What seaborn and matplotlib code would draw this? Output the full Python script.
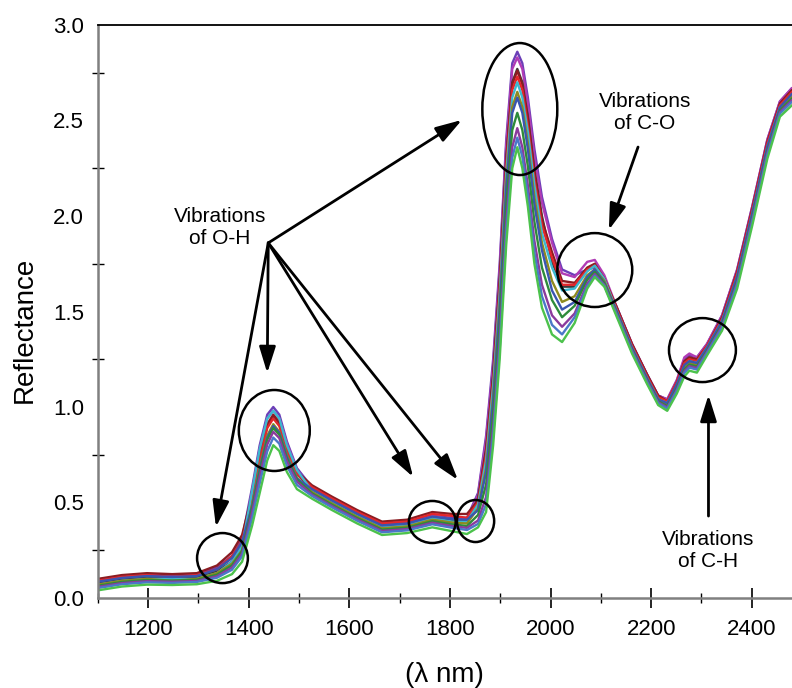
import numpy as np
import pandas as pd
import seaborn as sns
import matplotlib
matplotlib.use("Agg")
import matplotlib.pyplot as plt
from matplotlib.patches import Ellipse

sns.set_style("ticks")
plt.rcParams['font.family'] = ['Liberation Sans', 'DejaVu Sans']
plt.rcParams['text.color'] = 'black'
plt.rcParams['xtick.color'] = 'black'
plt.rcParams['ytick.color'] = 'black'

# wavelength grid (nm)
wavelength = [1100, 1148, 1198, 1248, 1297, 1337, 1367, 1387,
              1407, 1422, 1437, 1449, 1461, 1476, 1496,
              1526, 1566, 1616, 1665, 1715, 1765, 1804, 1834,
              1856, 1872, 1886, 1899, 1912, 1924, 1934, 1944, 1955, 1968, 1983,
              2003, 2023, 2048, 2073, 2088, 2107,
              2132, 2162, 2192, 2214, 2232, 2251, 2266, 2276, 2291, 2311,
              2341, 2371, 2401, 2431, 2456, 2480]

purple = [0.09, 0.11, 0.12, 0.12, 0.12, 0.16, 0.22, 0.31,
          0.58, 0.80, 0.96, 1.00, 0.96, 0.82, 0.68,
          0.58, 0.52, 0.45, 0.39, 0.40, 0.43, 0.42, 0.42,
          0.55, 0.85, 1.25, 1.75, 2.40, 2.80, 2.86, 2.80, 2.62, 2.35, 2.10,
          1.88, 1.72, 1.69, 1.72, 1.73, 1.66,
          1.52, 1.33, 1.17, 1.06, 1.04, 1.14, 1.25, 1.27, 1.26, 1.33, 1.48, 1.72, 2.05, 2.40, 2.60, 2.67]
magenta = [0.08, 0.10, 0.11, 0.11, 0.11, 0.15, 0.21, 0.29,
           0.56, 0.78, 0.94, 0.98, 0.94, 0.81, 0.67,
           0.57, 0.51, 0.44, 0.38, 0.39, 0.43, 0.41, 0.41,
           0.54, 0.83, 1.22, 1.72, 2.37, 2.77, 2.83, 2.77, 2.59, 2.31, 2.07,
           1.86, 1.70, 1.68, 1.76, 1.77, 1.69,
           1.52, 1.33, 1.17, 1.06, 1.04, 1.14, 1.26, 1.28, 1.26, 1.33, 1.48, 1.72, 2.05, 2.40, 2.60, 2.67]
black = [0.08, 0.10, 0.11, 0.10, 0.11, 0.14, 0.19, 0.27,
         0.53, 0.74, 0.90, 0.95, 0.91, 0.78, 0.65,
         0.57, 0.51, 0.44, 0.38, 0.39, 0.42, 0.41, 0.40,
         0.52, 0.78, 1.17, 1.66, 2.30, 2.70, 2.77, 2.70, 2.52, 2.24, 2.00,
         1.76, 1.63, 1.63, 1.72, 1.74, 1.67,
         1.50, 1.32, 1.16, 1.05, 1.02, 1.12, 1.22, 1.25, 1.24, 1.31, 1.46, 1.69, 2.02, 2.37, 2.58, 2.64]
darkred = [0.10, 0.12, 0.13, 0.125, 0.13, 0.17, 0.24, 0.33,
           0.54, 0.75, 0.91, 0.96, 0.92, 0.79, 0.66,
           0.59, 0.53, 0.46, 0.40, 0.41, 0.45, 0.44, 0.44,
           0.51, 0.77, 1.16, 1.65, 2.29, 2.69, 2.76, 2.69, 2.51, 2.23, 1.98,
           1.81, 1.66, 1.65, 1.73, 1.75, 1.67,
           1.52, 1.33, 1.17, 1.06, 1.03, 1.13, 1.24, 1.26, 1.25, 1.32, 1.47, 1.71, 2.04, 2.39, 2.59, 2.66]
red = [0.09, 0.11, 0.12, 0.11, 0.12, 0.15, 0.22, 0.30,
       0.52, 0.72, 0.89, 0.94, 0.90, 0.77, 0.65,
       0.58, 0.52, 0.45, 0.39, 0.40, 0.44, 0.43, 0.42,
       0.50, 0.75, 1.13, 1.62, 2.26, 2.66, 2.73, 2.66, 2.47, 2.19, 1.95,
       1.78, 1.64, 1.64, 1.72, 1.74, 1.67,
       1.51, 1.32, 1.16, 1.05, 1.03, 1.13, 1.23, 1.25, 1.24, 1.32, 1.46, 1.70, 2.03, 2.38, 2.58, 2.65]
cyan = [0.07, 0.09, 0.10, 0.10, 0.10, 0.13, 0.19, 0.27,
        0.56, 0.78, 0.94, 0.98, 0.94, 0.80, 0.67,
        0.56, 0.50, 0.43, 0.37, 0.38, 0.42, 0.40, 0.40,
        0.49, 0.72, 1.11, 1.59, 2.22, 2.62, 2.70, 2.62, 2.44, 2.16, 1.91,
        1.73, 1.61, 1.62, 1.71, 1.74, 1.67,
        1.50, 1.31, 1.15, 1.04, 1.02, 1.11, 1.21, 1.24, 1.23, 1.31, 1.45, 1.68, 2.01, 2.36, 2.57, 2.63]
olive = [0.07, 0.09, 0.10, 0.09, 0.10, 0.13, 0.18, 0.25,
         0.49, 0.69, 0.85, 0.91, 0.87, 0.75, 0.63,
         0.555, 0.495, 0.425, 0.365, 0.375, 0.41, 0.395, 0.39,
         0.47, 0.68, 1.06, 1.54, 2.17, 2.57, 2.65, 2.57, 2.38, 2.10, 1.86,
         1.66, 1.55, 1.58, 1.69, 1.72, 1.66,
         1.495, 1.305, 1.145, 1.035, 1.01, 1.105, 1.205, 1.23, 1.22, 1.30, 1.44, 1.67, 2.00, 2.35, 2.56, 2.625]
navy = [0.085, 0.105, 0.115, 0.11, 0.115, 0.15, 0.21, 0.295,
        0.48, 0.675, 0.84, 0.90, 0.865, 0.74, 0.625,
        0.57, 0.51, 0.44, 0.38, 0.39, 0.426, 0.413, 0.41,
        0.46, 0.66, 1.03, 1.51, 2.14, 2.54, 2.62, 2.54, 2.35, 2.06, 1.82,
        1.61, 1.51, 1.55, 1.68, 1.72, 1.65,
        1.50, 1.31, 1.15, 1.04, 1.02, 1.12, 1.22, 1.24, 1.23, 1.31, 1.45, 1.685, 2.015, 2.365, 2.57, 2.64]
dkgreen = [0.064, 0.084, 0.094, 0.091, 0.095, 0.122, 0.171, 0.246,
           0.47, 0.66, 0.83, 0.89, 0.855, 0.73, 0.62,
           0.548, 0.488, 0.418, 0.358, 0.368, 0.402, 0.386, 0.377,
           0.435, 0.594, 0.962, 1.43, 2.05, 2.45, 2.54, 2.45, 2.26, 1.97, 1.73,
           1.56, 1.47, 1.53, 1.666, 1.708, 1.648,
           1.49, 1.30, 1.14, 1.03, 1.004, 1.098, 1.196, 1.222, 1.212, 1.294, 1.432, 1.66, 1.99, 2.34, 2.552, 2.616]
purple2 = [0.058, 0.078, 0.088, 0.085, 0.089, 0.114, 0.16, 0.232,
           0.45, 0.638, 0.804, 0.87, 0.837, 0.716, 0.609,
           0.541, 0.481, 0.411, 0.351, 0.361, 0.394, 0.377, 0.367,
           0.406, 0.53, 0.89, 1.35, 1.96, 2.36, 2.46, 2.36, 2.16, 1.87, 1.64,
           1.48, 1.42, 1.49, 1.646, 1.696, 1.64,
           1.485, 1.295, 1.135, 1.025, 0.998, 1.091, 1.187, 1.214, 1.204, 1.288, 1.424, 1.65, 1.98, 2.33, 2.544, 2.607]
blue2 = [0.052, 0.072, 0.082, 0.079, 0.084, 0.106, 0.148, 0.218,
         0.42, 0.60, 0.768, 0.84, 0.808, 0.692, 0.592,
         0.534, 0.474, 0.404, 0.344, 0.354, 0.386, 0.368, 0.356,
         0.388, 0.49, 0.845, 1.30, 1.905, 2.305, 2.41, 2.31, 2.11, 1.81, 1.58,
         1.43, 1.38, 1.47, 1.633, 1.688, 1.635,
         1.48, 1.29, 1.13, 1.02, 0.992, 1.084, 1.178, 1.206, 1.196, 1.282, 1.416, 1.64, 1.97, 2.32, 2.536, 2.598]
ltgreen = [0.04, 0.06, 0.07, 0.068, 0.072, 0.09, 0.125, 0.19,
           0.38, 0.55, 0.72, 0.80, 0.77, 0.66, 0.57,
           0.52, 0.46, 0.39, 0.33, 0.34, 0.37, 0.35, 0.335,
           0.37, 0.45, 0.80, 1.25, 1.85, 2.25, 2.36, 2.25, 2.05, 1.75, 1.52,
           1.38, 1.34, 1.44, 1.62, 1.68, 1.63,
           1.47, 1.28, 1.12, 1.01, 0.98, 1.07, 1.16, 1.19, 1.18, 1.27, 1.40, 1.62, 1.95, 2.30, 2.52, 2.58]

samples = {
    'purple': purple, 'magenta': magenta, 'black': black, 'darkred': darkred,
    'red': red, 'cyan': cyan, 'olive': olive, 'navy': navy,
    'dkgreen': dkgreen, 'purple2': purple2, 'blue2': blue2, 'ltgreen': ltgreen,
}
colors = ['#6B3FB8', '#B03CB5', '#3C3C3C', '#8B1C22', '#E3262B', '#3DB8D0',
          '#8E8A1F', '#3A55B0', '#2E8B3A', '#8B3A9C', '#4A78C8', '#4CC24C']

rows = []
for name, vals in samples.items():
    for w, r in zip(wavelength, vals):
        rows.append({'wavelength': w, 'reflectance': r, 'sample': name})
df = pd.DataFrame(rows)

fig = plt.figure(figsize=(7.92, 6.88), dpi=100)
ax = fig.add_axes([97.7 / 792, 1 - 598 / 688, (792 - 97.7) / 792, 573 / 688])

sns.lineplot(data=df, x='wavelength', y='reflectance', hue='sample',
             palette=colors, legend=False, lw=1.7, ax=ax)

ax.set_xlim(1100, 2480)
ax.set_ylim(0, 3.0)
ax.set_xticks(range(1200, 2401, 200))
ax.set_xticks(range(1100, 2481, 100), minor=True)
ax.set_yticks(np.arange(0, 3.01, 0.5))
ax.set_yticklabels([f'{v:.1f}' for v in np.arange(0, 3.01, 0.5)])
ax.set_yticks(np.arange(0.25, 3.0, 0.5), minor=True)
ax.tick_params(axis='both', which='both', bottom=True, left=True, top=False, right=False)
ax.tick_params(axis='y', which='major', length=0, pad=10, labelsize=16)
ax.tick_params(axis='y', which='minor', direction='inout', length=8, width=1)
ax.tick_params(axis='x', which='major', direction='inout', length=14, width=1.2,
               pad=8, labelsize=16)
ax.tick_params(axis='x', which='minor', direction='inout', length=7, width=1)
ax.set_xlabel('')
ax.set_ylabel('')

ax.spines['right'].set_visible(False)
ax.spines['top'].set_visible(True)
ax.spines['top'].set_color('black')
ax.spines['top'].set_linewidth(1.3)
for s in ['left', 'bottom']:
    ax.spines[s].set_color('#808080')
    ax.spines[s].set_linewidth(1.8)

fig.text(25 / 792, 1 - 330 / 688, 'Reflectance', rotation=90,
         ha='center', va='center', fontsize=20)
fig.text(444 / 792, 1 - 675 / 688, '(λ nm)', ha='center', va='center', fontsize=20)

# circles around the bands
circles = [(1348, 0.209, 101, 0.262), (1451, 0.877, 141, 0.424),
           (1765, 0.398, 93, 0.22), (1851, 0.403, 74, 0.22),
           (1939, 2.56, 149, 0.691), (2088, 1.717, 149, 0.387),
           (2302, 1.298, 133, 0.335)]
for cx, cy, w, h in circles:
    ax.add_patch(Ellipse((cx, cy), w, h, fill=False, ec='black', lw=1.8, zorder=5))

arrow = dict(arrowstyle='-|>,head_length=0.8,head_width=0.25', color='black',
             lw=2, mutation_scale=20, shrinkA=0, shrinkB=0)

ax.text(1343, 1.94, 'Vibrations\nof O-H', ha='center', va='center', fontsize=15,
        linespacing=1.2)
for tx, ty in [(1335, 0.372), (1437, 1.178), (1824, 2.503), (1727, 0.634), (1816, 0.618)]:
    ax.annotate('', xy=(tx, ty), xytext=(1439, 1.859), arrowprops=arrow)

ax.text(2188, 2.54, 'Vibrations\nof C-O', ha='center', va='center', fontsize=15,
        linespacing=1.2)
ax.annotate('', xy=(2116, 1.927), xytext=(2174, 2.361), arrowprops=arrow)

ax.text(2314, 0.251, 'Vibrations\nof C-H', ha='center', va='center', fontsize=15,
        linespacing=1.2)
ax.annotate('', xy=(2314, 1.063), xytext=(2314, 0.429), arrowprops=arrow)

fig.savefig('out.png', dpi=100)
